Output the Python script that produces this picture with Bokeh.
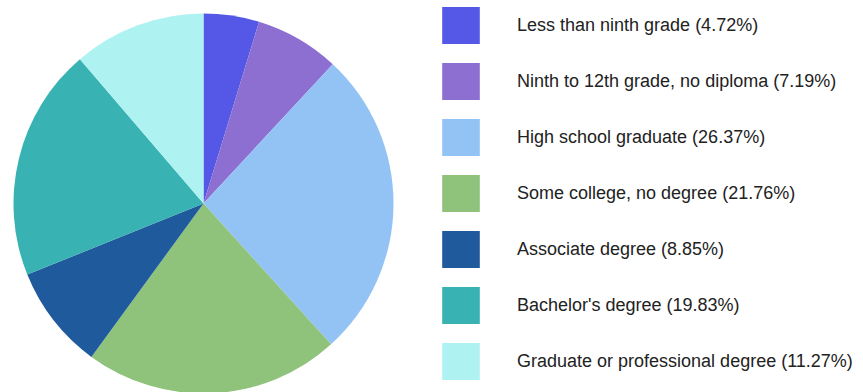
import math
from bokeh.plotting import figure
from bokeh.models import ColumnDataSource, Range1d, Legend, LegendItem
from bokeh.embed import file_html
from bokeh.resources import INLINE

categories = [
    "Less than ninth grade",
    "Ninth to 12th grade, no diploma",
    "High school graduate",
    "Some college, no degree",
    "Associate degree",
    "Bachelor's degree",
    "Graduate or professional degree",
]
shares = [4.72, 7.19, 26.37, 21.76, 8.85, 19.83, 11.27]
colors = ["#5558E6", "#8C6FD1", "#93C3F5", "#8FC27A", "#1E5A9C", "#38B2B2", "#AEF2F2"]

W, H = 863, 392
cx, cy, r = 203, H - 203, 190

total = sum(shares)
starts, ends = [], []
acc = 0.0
for s in shares:
    a0 = acc / total
    acc += s
    a1 = acc / total
    # clockwise from 12 o'clock
    starts.append(math.pi / 2 - a1 * 2 * math.pi)
    ends.append(math.pi / 2 - a0 * 2 * math.pi)

labels = [f"{c} ({v:.2f}%)" for c, v in zip(categories, shares)]
src = ColumnDataSource(dict(start=starts, end=ends, color=colors, label=labels))

p = figure(width=W, height=H, output_backend="svg", toolbar_location=None,
           x_range=Range1d(0, W), y_range=Range1d(0, H), min_border=0)
p.axis.visible = False
p.grid.visible = False
p.outline_line_color = None
p.background_fill_color = "white"
p.border_fill_color = "white"

wr = p.wedge(x=cx, y=cy, radius=r, start_angle="start", end_angle="end",
             fill_color="color", line_color=None, source=src)

legend = Legend(items=[LegendItem(label=labels[i], renderers=[wr], index=i)
                       for i in range(len(labels))],
                location=(437, 8))
legend.glyph_width = 47
legend.glyph_height = 46
legend.spacing = 10
legend.padding = 0
legend.margin = 0
legend.border_line_color = None
legend.background_fill_alpha = 0
legend.label_standoff = 33
legend.label_text_font = "Liberation Sans"
legend.label_text_font_size = "18px"
legend.label_text_color = "#222222"
legend.label_height = 46
p.add_layout(legend, "center")

open("out.html", "w").write(file_html(p, INLINE))
